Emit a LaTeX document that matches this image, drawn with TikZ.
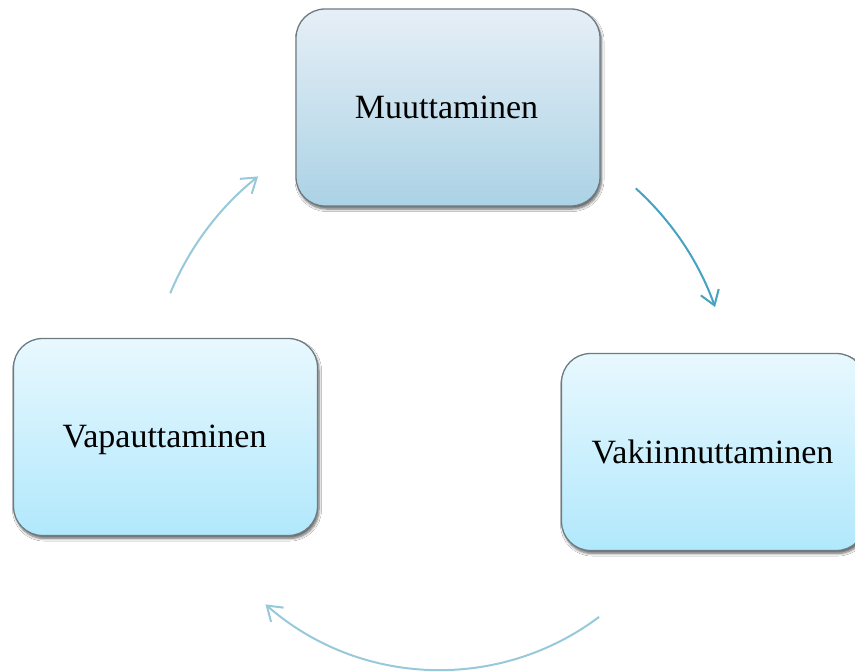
\documentclass[tikz,border=0pt]{standalone}
\usepackage{fontspec}
\setmainfont{Liberation Serif}
\usetikzlibrary{arrows.meta,calc,shadows.blur}
\definecolor{topA}{HTML}{E6EFF7}
\definecolor{topB}{HTML}{ABD2E5}
\definecolor{sideA}{HTML}{E8F8FE}
\definecolor{sideB}{HTML}{B1E8FC}
\definecolor{boxline}{HTML}{6E7B82}
\definecolor{arrdark}{HTML}{45A3C1}
\definecolor{arrlight}{HTML}{98C9DA}
\tikzset{
  stagebox/.style={draw=boxline, line width=1.3pt, rounded corners=29pt,
    minimum width=304pt, minimum height=197pt, inner sep=0pt,
    blur shadow={shadow xshift=1.5pt, shadow yshift=-3pt, shadow blur steps=6,
      shadow blur radius=2.5pt, shadow opacity=60}},
  topbox/.style={stagebox, top color=topA, bottom color=topB},
  sidebox/.style={stagebox, top color=sideA, bottom color=sideB},
  label/.style={font=\fontsize{34}{40}\selectfont, text=black, inner sep=0pt, anchor=base},
  cyc/.style={line width=2pt, -{Straight Barb[length=14pt,width=19pt,line width=2pt]}}
}
\begin{document}
\begin{tikzpicture}[x=1pt,y=-1pt]
  \useasboundingbox (0,0) rectangle (855,672);
  \clip (0,0) rectangle (855,672);
  \fill[white] (0,0) rectangle (855,672);

  % stages of the cycle
  \node[topbox]  (muut) at (448,107.5) {};
  \node[sidebox] (vapa) at (165.5,437) {};
  \node[sidebox] (vaki) at (713.5,452) {};
  \node[label] (muutT) at (446.5,118.5) {Muuttaminen};
  \node[label] (vapaT) at (164.5,447) {Vapauttaminen};
  \node[label] (vakiT) at (712.5,463) {Vakiinnuttaminen};

  % arrow end points on a common circle around the cycle
  \coordinate (c) at (440,405);
  \coordinate (a1) at ($(c)+(-47.9:292)$);
  \coordinate (b1) at ($(c)+(53.1:265)$);
  \coordinate (l1) at ($(c)+(-157.5:292)$);

  \draw[cyc, arrdark]  (a1) arc[start angle=-47.9, end angle=-19.6, radius=292];
  \draw[cyc, arrlight] (b1) arc[start angle=53.1, end angle=131.2, radius=265];
  \draw[cyc, arrlight] (l1) arc[start angle=-157.5, end angle=-128.6, radius=293];
\end{tikzpicture}
\end{document}
